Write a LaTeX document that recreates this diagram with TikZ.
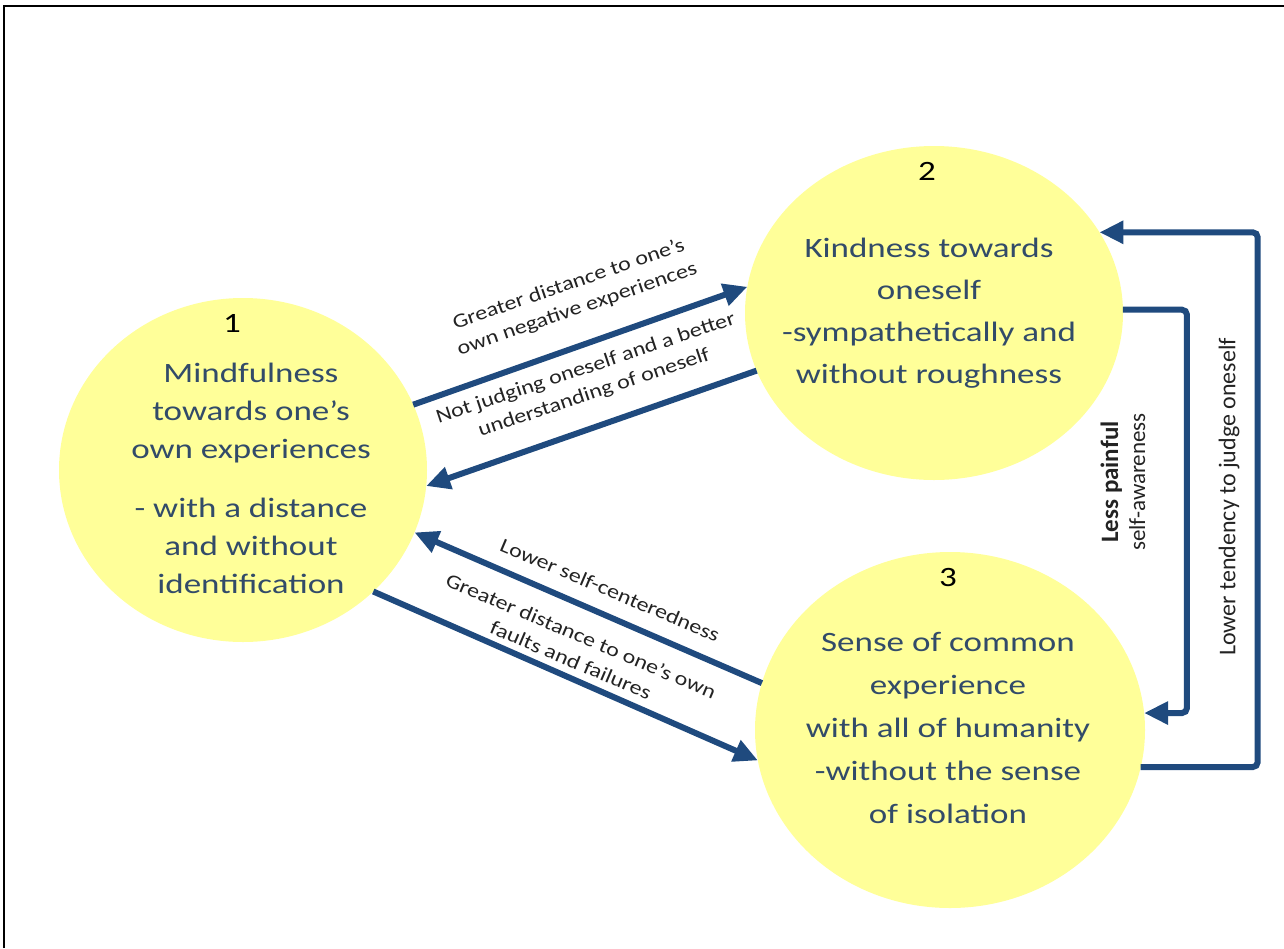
\documentclass[tikz,border=0pt]{standalone}
\usepackage{fontspec}
\setmainfont{Carlito}
\newfontfamily\widefont[FakeStretch=1.25]{Carlito}
\newfontfamily\slimfont[FakeStretch=1.2]{Carlito}
\usetikzlibrary{positioning,shapes.geometric,arrows.meta}
\definecolor{stateyellow}{HTML}{FFFF99}
\definecolor{arrowblue}{HTML}{1F4A7E}
\definecolor{textblue}{RGB}{50,75,105}
\definecolor{labelgray}{RGB}{35,35,35}

\begin{document}
\begin{tikzpicture}[x=1pt, y=-1pt, >={Triangle[length=24pt,width=22pt]},
    state/.style = {ellipse, fill=stateyellow, inner sep=0pt, outer sep=0pt},
    num/.style = {inner sep=0pt, text=black, font=\widefont\fontsize{28}{30}\selectfont},
    txt/.style = {align=center, inner sep=0pt, text=textblue, font=\widefont\fontsize{28}{38}\selectfont},
    lbl/.style = {align=center, inner sep=0pt, text=labelgray, font=\slimfont\fontsize{20}{26}\selectfont},
    arr/.style = {->, draw=arrowblue, line width=6pt}
    ]
    \useasboundingbox (0,0) rectangle (1284,948);
    \draw[line width=2.5pt] (4,948) -- (4,6) -- (1284,6);

    \node[state, minimum width=368pt, minimum height=344pt] (1) at (243,470) {};
    \node[state, minimum width=378pt, minimum height=334pt] (2) at (934,313) {};
    \node[state, minimum width=390pt, minimum height=356pt] (3) at (950,730) {};

    \node[num, below=16pt of 1.north, xshift=-11pt] (n1) {1};
    \node[num, below=16pt of 2.north, xshift=-7pt] (n2) {2};
    \node[num, below=16pt of 3.north, xshift=-2pt] (n3) {3};

    \node[txt, xshift=8pt, yshift=-8pt] (t1) at (1) {Mindfulness\\towards one’s\\own experiences\\[21pt]- with a distance\\and without\\identification};
    \node[txt, font=\widefont\fontsize{28}{42}\selectfont, xshift=-5pt] (t2) at (2) {Kindness towards\\oneself\\-sympathetically and\\without roughness};
    \node[txt, font=\widefont\fontsize{28}{43}\selectfont, xshift=-2pt, yshift=2pt] (t3) at (3) {Sense of common\\experience\\with all of humanity\\-without the sense\\of isolation};

    \draw[arr] (1.21) -- (2.172);
    \draw[arr] (2.198) -- (1.-5);
    \draw[arr] (3.166) -- (1.-20);
    \draw[arr] (1.-43) -- (3.189);
    \draw[arr, rounded corners=5pt] (2.1) -- ++(64,0) |- (3.5);
    \draw[arr, rounded corners=5pt] (3.-11) -- ++(117,0) |- (2.26);

    \node[lbl, rotate=19] (a) at (573,297) {Greater distance to one’s\\own negative experiences};
    \node[lbl, rotate=18.5] (b) at (590,381) {Not judging oneself and a better\\understanding of oneself};
    \node[lbl, rotate=-23] (c) at (610,590) {Lower self-centeredness};
    \node[lbl, rotate=-23] (d) at (576,648) {Greater distance to one’s own\\faults and failures};
    \node[lbl, rotate=90, font=\fontsize{23}{27}\selectfont] (e) at (1123,482) {{\bfseries\fontsize{25}{27}\selectfont Less painful}\\self-awareness};
    \node[lbl, rotate=90, font=\fontsize{24}{26}\selectfont] (f) at (1229,497) {Lower tendency to judge oneself};
\end{tikzpicture}
\end{document}
